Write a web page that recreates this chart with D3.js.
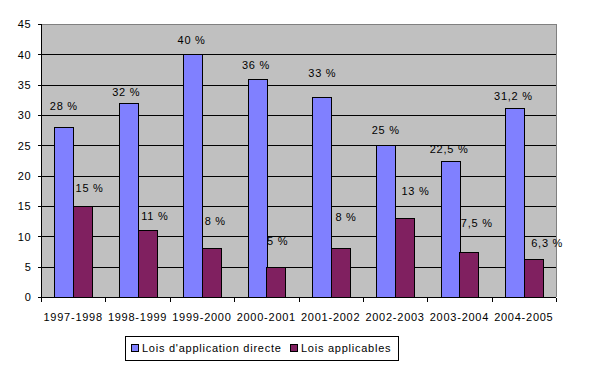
<!DOCTYPE html>
<html><head><meta charset="utf-8">
<script src="https://cdn.jsdelivr.net/npm/d3@7"></script>
<style>
html,body{margin:0;padding:0;background:#fff;}
text{font-family:"Liberation Sans",Arial,sans-serif;font-size:11px;letter-spacing:0.75px;fill:#000;}
</style></head>
<body><svg id="c" width="611" height="369"></svg>
<script>
// ---- data ----
const categories = ["1997-1998","1998-1999","1999-2000","2000-2001","2001-2002","2002-2003","2003-2004","2004-2005"];
const seriesNames = ["Lois d'application directe","Lois applicables"];
const directe = [28, 32, 40, 36, 33, 25, 22.5, 31.2];
const applicables = [15, 11, 8, 5, 8, 13, 7.5, 6.3];
const directeLabels = ["28 %","32 %","40 %","36 %","33 %","25 %","22,5 %","31,2 %"];
const applicablesLabels = ["15 %","11 %","8 %","5 %","8 %","13 %","7,5 %","6,3 %"];
const yTicks = [0,5,10,15,20,25,30,35,40,45];

// ---- layout (label nudges in px, as placed in the original) ----
const directeDx = [0,-2,-1,-1,1,0,-1,-1];
const directeDy = [-21,-11,-14,-13,-24,-15,-11,-12];
const applicDx = [7,8,4,2,6,11,8,14];
const applicDy = [-18,-14,-27,-26,-31,-27,-28,-16];
const colors = ["#8080FF","#802060"];

const svg = d3.select("#c");
const L = 41, R = 556, T = 24, B = 297;
const x0 = d3.scaleBand().domain(categories).range([L, R]).paddingInner(0.4175).paddingOuter(0.20875);
const x1 = d3.scaleBand().domain(seriesNames).range([0, x0.bandwidth()]);
const y = d3.scaleLinear().domain([0, 45]).range([B, T]);
const step = x0.step();

// plot background
svg.append("rect").attr("x", L).attr("y", T).attr("width", R - L).attr("height", B - T).attr("fill", "#C0C0C0");

// gridlines
svg.append("g").selectAll("line").data(yTicks.filter(d => d > 0 && d < 45)).join("line")
  .attr("x1", L).attr("x2", R)
  .attr("y1", d => Math.round(y(d)) + 0.5).attr("y2", d => Math.round(y(d)) + 0.5)
  .attr("stroke", "#000").attr("shape-rendering", "crispEdges");

// plot border top/right
svg.append("path").attr("d", `M${L},${T + 0.5}H${R + 0.5}V${B}`).attr("fill", "none").attr("stroke", "#808080").attr("shape-rendering", "crispEdges");

// bars
const data = categories.map((c, i) => ({c, vals: [directe[i], applicables[i]]}));
const g = svg.append("g").selectAll("g").data(data).join("g");
g.selectAll("rect").data(d => d.vals.map((v, k) => ({c: d.c, v, k}))).join("rect")
  .attr("x", d => Math.round(x0(d.c) + x1(seriesNames[d.k])) + 0.5)
  .attr("y", d => Math.round(y(d.v)) + 0.5)
  .attr("width", d => Math.round(x1.bandwidth()))
  .attr("height", d => Math.round(y(0)) - Math.round(y(d.v)))
  .attr("fill", d => colors[d.k]).attr("stroke", "#000").attr("shape-rendering", "crispEdges");

// axes
const yAxis = d3.axisLeft(y).tickValues(yTicks).tickSize(4).tickPadding(6);
const ya = svg.append("g").attr("transform", `translate(${L + 0.5},0)`).call(yAxis);
const xAxis = d3.axisBottom(d3.scaleLinear().domain([0, 8]).range([L, R])).tickValues(d3.range(9)).tickSize(4).tickFormat("");
const xa = svg.append("g").attr("transform", `translate(0,${B + 0.5})`).call(xAxis);
[ya, xa].forEach(a => {
  a.selectAll("path").attr("stroke", "#000").attr("shape-rendering", "crispEdges");
  a.selectAll("line").attr("stroke", "#000").attr("shape-rendering", "crispEdges");
  a.selectAll("text").attr("font-size", null).attr("font-family", null);
  a.attr("font-size", null).attr("font-family", null);
});
ya.select(".domain").attr("d", `M0,${B}V${T}`);
xa.select(".domain").attr("d", `M${L},0H${R}`);
ya.selectAll("text").attr("dy", "0.35em");
xa.selectAll("line").attr("transform", function(){ const t=d3.select(this.parentNode).attr("transform"); return null; });
xa.selectAll(".tick").attr("transform", function(d){ return `translate(${Math.round(L + d * step) + 0.5},0)`; });

// category labels
svg.append("g").selectAll("text").data(categories).join("text")
  .attr("x", d => x0(d) + x0.bandwidth() / 2).attr("y", 317).attr("dy", "0.35em")
  .attr("text-anchor", "middle").text(d => d);

// value labels
svg.append("g").selectAll("text").data(categories).join("text")
  .attr("x", (d, i) => x0(d) + x1(seriesNames[0]) + x1.bandwidth() / 2 + directeDx[i])
  .attr("y", (d, i) => y(directe[i]) + directeDy[i]).attr("dy", "0.35em")
  .attr("text-anchor", "middle").text((d, i) => directeLabels[i]);
svg.append("g").selectAll("text").data(categories).join("text")
  .attr("x", (d, i) => x0(d) + x1(seriesNames[1]) + x1.bandwidth() / 2 + applicDx[i])
  .attr("y", (d, i) => y(applicables[i]) + applicDy[i]).attr("dy", "0.35em")
  .attr("text-anchor", "middle").text((d, i) => applicablesLabels[i]);

// legend
svg.append("rect").attr("x", 125.5).attr("y", 336.5).attr("width", 273).attr("height", 24)
  .attr("fill", "#fff").attr("stroke", "#000").attr("shape-rendering", "crispEdges");
const legX = [131, 290];
seriesNames.forEach((s, k) => {
  svg.append("rect").attr("x", legX[k] + 0.5).attr("y", 344.5).attr("width", 7).attr("height", 7)
    .attr("fill", colors[k]).attr("stroke", "#000").attr("shape-rendering", "crispEdges");
  svg.append("text").attr("x", legX[k] + 11).attr("y", 348).attr("dy", "0.35em").text(s);
});
</script></body></html>
